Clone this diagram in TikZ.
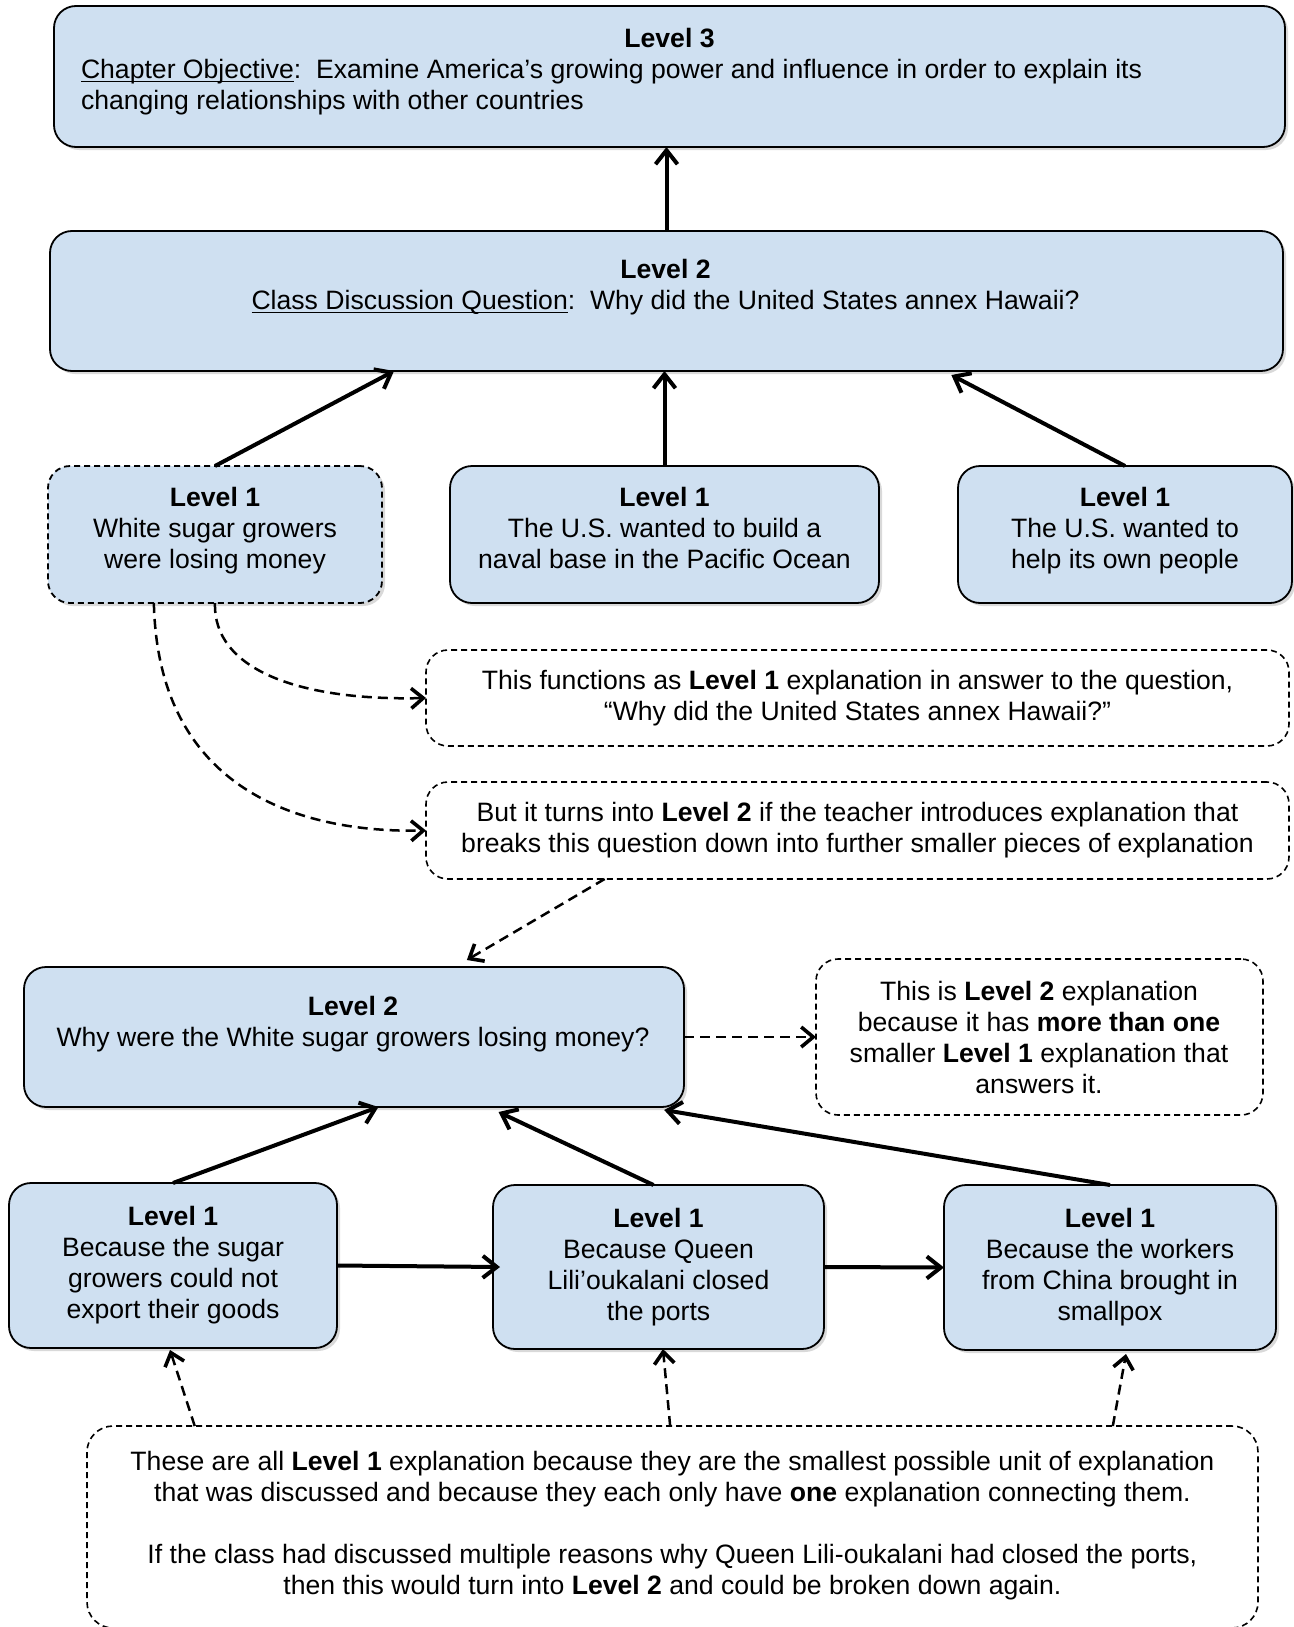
\documentclass[tikz,border=0pt]{standalone}
\usepackage{fontspec}
\setmainfont{Liberation Sans}
\usetikzlibrary{arrows.meta,shadows,calc}
\definecolor{boxblue}{RGB}{207,224,241}
\newcommand{\myul}[1]{\underline{\smash{#1}}\vphantom{#1}}
\begin{document}
\begin{tikzpicture}[x=0.5pt,y=-0.5pt,
  every node/.style={font=\fontsize{13.3}{15.5}\selectfont, inner sep=0pt, outer sep=0pt},
  bluebox/.style={draw=black, line width=0.9pt, fill=boxblue, rounded corners=11pt,
    drop shadow={shadow xshift=1.5pt,shadow yshift=-1.5pt,opacity=0.3}},
  dashbluebox/.style={bluebox, dash pattern=on 3pt off 2pt},
  notebox/.style={draw=black, line width=0.8pt, dash pattern=on 3pt off 2pt, fill=white, rounded corners=11pt},
  txt/.style={align=center, execute at begin node=\strut, execute at end node=\strut},
  solidarrow/.style={line width=2pt, -{Straight Barb[length=7pt,width=11pt]}},
  dasharrow/.style={line width=1.25pt, dash pattern=on 5pt off 3pt, -{Straight Barb[length=6pt,width=10pt,line width=1.8pt]}}
]
\useasboundingbox (0,0) rectangle (1294,1627);
% boxes
\node[bluebox, minimum width=615.5pt, minimum height=70.5pt] (L3) at (669.5,76.5) {};
\node[bluebox, minimum width=616.5pt, minimum height=70pt] (L2) at (666.5,301) {};
\node[dashbluebox, minimum width=167pt, minimum height=68.5pt] (A) at (215,534.5) {};
\node[bluebox, minimum width=214.5pt, minimum height=68.5pt] (B) at (664.5,534.5) {};
\node[bluebox, minimum width=167pt, minimum height=68.5pt] (C) at (1125,534.5) {};
\node[notebox, minimum width=431.5pt, minimum height=48pt] (N1) at (857.5,698) {};
\node[notebox, minimum width=431.5pt, minimum height=48.5pt] (N2) at (857.5,830.5) {};
\node[bluebox, minimum width=330pt, minimum height=70pt] (L2b) at (354,1037) {};
\node[notebox, minimum width=223.5pt, minimum height=78pt] (N3) at (1039.5,1037) {};
\node[bluebox, minimum width=164pt, minimum height=82.5pt] (D) at (173,1265.5) {};
\node[bluebox, minimum width=165.5pt, minimum height=82pt] (E) at (658.5,1267) {};
\node[bluebox, minimum width=166pt, minimum height=82.5pt] (F) at (1110,1267.5) {};
\node[notebox, rounded corners=13pt, minimum width=585.5pt, minimum height=101pt] (Bot) at (672.5,1527) {};
% texts
\node[txt] (L3t) at (669.5,41.4) {\textbf{Level 3}};
\node[txt, align=left, anchor=west] (L3b) at (81,88.9) {\myul{Chapter Objective}:\ \ Examine America’s growing power and influence in order to explain its\\changing relationships with other countries};
\node[txt] (L2t) at (665.5,289.4) {\textbf{Level 2}\\\myul{Class Discussion Question}:\ \ Why did the United States annex Hawaii?};
\node[txt] (At) at (215,532.9) {\textbf{Level 1}\\White sugar growers\\were losing money};
\node[txt] (Bt) at (664.5,532.9) {\textbf{Level 1}\\The U.S. wanted to build a\\naval base in the Pacific Ocean};
\node[txt] (Ct) at (1125,532.9) {\textbf{Level 1}\\The U.S. wanted to\\help its own people};
\node[txt] (N1t) at (857.5,699.9) {This functions as \textbf{Level 1} explanation in answer to the question,\\“Why did the United States annex Hawaii?”};
\node[txt] (N2t) at (857.5,832.4) {But it turns into \textbf{Level 2} if the teacher introduces explanation that\\breaks this question down into further smaller pieces of explanation};
\node[txt] (L2bt) at (353,1025.9) {\textbf{Level 2}\\Why were the White sugar growers losing money?};
\node[txt] (N3t) at (1039,1042.4) {This is \textbf{Level 2} explanation\\because it has \textbf{more than one}\\smaller \textbf{Level 1} explanation that\\answers it.};
\node[txt] (Dt) at (173,1266.9) {\textbf{Level 1}\\Because the sugar\\growers could not\\export their goods};
\node[txt] (Et) at (658.5,1268.9) {\textbf{Level 1}\\Because Queen\\Lili’oukalani closed\\the ports};
\node[txt] (Ft) at (1110,1268.9) {\textbf{Level 1}\\Because the workers\\from China brought in\\smallpox};
\node[txt] (Bott) at (672.4,1527.4) {These are all \textbf{Level 1} explanation because they are the smallest possible unit of explanation\\that was discussed and because they each only have \textbf{one} explanation connecting them.\\[15.5pt]If the class had discussed multiple reasons why Queen Lili-oukalani had closed the ports,\\then this would turn into \textbf{Level 2} and could be broken down again.};
% connectors
\draw[solidarrow] (L2.north) -- (L2.north |- L3.south);
\draw[solidarrow] (A.north) -- ($(L2.south west)!0.279!(L2.south east)$);
\draw[solidarrow] (B.north) -- (B.north |- L2.south);
\draw[solidarrow] (C.north) -- ($(L2.south west)!0.731!(L2.south east)+(0,4)$);
\draw[dasharrow] (A.south) .. controls (213,670) and (300,701) .. (N1.west);
\draw[dasharrow] ($(A.south west)!0.317!(A.south east)$) .. controls (158,790) and (300,833) .. (N2.west);
\draw[dasharrow] ($(N2.south west)!0.207!(N2.south east)$) -- ($(L2b.north west)!0.671!(L2b.north east)+(0,-7)$);
\draw[dasharrow] (L2b.east) -- (N3.west);
\draw[solidarrow] (D.north) -- ($(L2b.south west)!0.537!(L2b.south east)$);
\draw[solidarrow] ($(E.north)+(-5,0)$) -- ($(L2b.south west)!0.719!(L2b.south east)+(0,5)$);
\draw[solidarrow] (F.north) -- ($(L2b.south west)!0.97!(L2b.south east)+(0,3)$);
\draw[solidarrow] (D.east) -- ($(E.west)+(7,0)$);
\draw[solidarrow] (E.east) -- (F.west);
\draw[dasharrow] ($(Bot.north west)!0.092!(Bot.north east)$) -- ($(D.south)+(-3,2)$);
\draw[dasharrow] ($(Bot.north west)!0.498!(Bot.north east)$) -- ($(E.south)+(4.5,0)$);
\draw[dasharrow] ($(Bot.north west)!0.876!(Bot.north east)$) -- ($(F.south)+(16,4)$);
\end{tikzpicture}
\end{document}
